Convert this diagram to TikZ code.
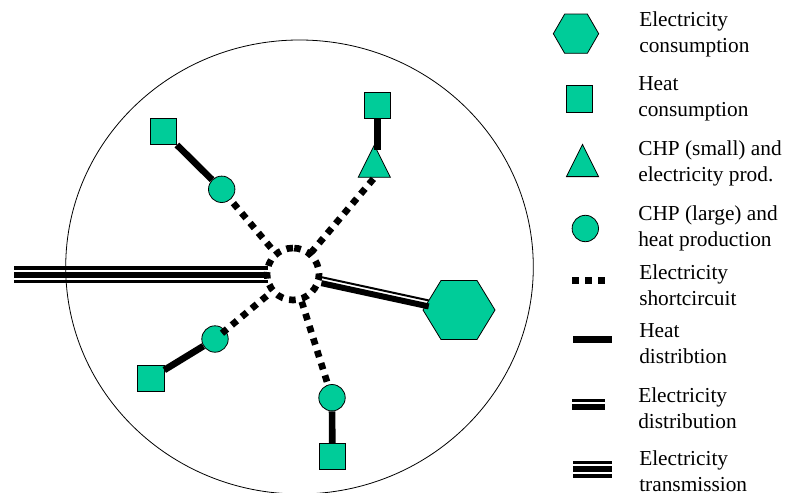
\documentclass[tikz,border=0pt]{standalone}
\usepackage{fontspec}
\setmainfont{Liberation Serif}
\usetikzlibrary{shapes.geometric}
\definecolor{fillgreen}{HTML}{00CC99}
\tikzset{
  shapeline/.style={draw=black,line width=0.6pt,fill=fillgreen,inner sep=0pt},
  sqnode/.style={shapeline,rectangle,minimum size=19.8pt},
  circnode/.style={shapeline,circle,minimum size=19.8pt},
  trinode/.style={shapeline,regular polygon,regular polygon sides=3,minimum size=27.9pt,yscale=1.155,transform shape},
  hexnode/.style={shapeline,regular polygon,regular polygon sides=6,minimum size=#1},
  hubnode/.style={circle,minimum size=39pt,inner sep=0pt,outer sep=2.25pt},
  dotline/.style={line width=5pt,dash pattern=on 5pt off 4.7pt},
  heatline/.style={line width=5pt},
  legtext/.style={anchor=west,align=left,inner sep=0pt,font=\fontsize{16}{19.5}\selectfont},
}
\newcommand{\bandline}[5]{\draw[line width=#3,transform canvas={yshift=#4},#5] (#1) -- (#2);}
\begin{document}
\begin{tikzpicture}[x=0.75pt,y=-0.75pt]
\useasboundingbox (0,0) rectangle (787,492);
\draw[line width=0.6pt,black] (299.5,267) ellipse [x radius=233.8,y radius=227];
% network nodes
\node[hubnode] (hub) at (293,274) {};
\node[sqnode] (s1) at (163.3,131.5) {};
\node[sqnode] (s2) at (377.5,105.5) {};
\node[sqnode] (s3) at (150.7,378.3) {};
\node[sqnode] (s4) at (332.3,456.5) {};
\node[circnode] (c1) at (221.7,189.3) {};
\node[circnode] (c2) at (215,339) {};
\node[circnode] (c3) at (332,397.7) {};
\node[trinode] (t1) at (374.3,166.6) {};
\node[hexnode=54pt,yscale=0.947,transform shape] (h1) at (459,310) {};
\coordinate (tx) at (14,274);
% connectors
\draw[heatline] (s1) -- (c1);
\draw[heatline,shorten >=-4.3pt] (s2.south) -- (s2.south |- t1.north);
\draw[heatline] (s3) -- (c2);
\draw[heatline] (s4) -- (c3);
\draw[dotline,dash phase=5.8pt] (hub) -- (c1);
\draw[dotline,dash phase=1.25pt] (hub) -- (t1.south);
\draw[dotline,dash phase=5.8pt,shorten >=-3.4pt] (hub) -- (c2);
\draw[dotline,dash phase=0.25pt] (hub) -- (c3);
\draw[dotline,shift={(hub.center)}] (90:19.5pt) arc [start angle=90,end angle=450,radius=19.5pt];
\bandline{hub}{h1}{1.5pt}{2.25pt}{shorten >=-1.5pt}
\bandline{hub}{h1}{4.5pt}{-2.25pt}{shorten >=-1.5pt}
\bandline{tx}{hub}{3pt}{4.7pt}{shorten >=-3pt}
\bandline{tx}{hub}{4.5pt}{-0.75pt}{shorten >=-3pt}
\bandline{tx}{hub}{2.25pt}{-5.5pt}{shorten >=-3pt}
% legend symbols
\node[hexnode=34pt] (lh) at (576,33.7) {};
\node[sqnode] (ls) at (579.3,99) {};
\node[trinode] (lt) at (582.5,165.9) {};
\node[circnode] (lc) at (585.3,228.5) {};
\coordinate (d1) at (572,280); \coordinate (d2) at (605,280);
\coordinate (e1) at (573,339.5); \coordinate (e2) at (612,339.5);
\coordinate (f1) at (572,400.6); \coordinate (f2) at (605,400.6);
\coordinate (g1) at (572,406.8); \coordinate (g2) at (605,406.8);
\coordinate (i1) at (573,462.5); \coordinate (i2) at (612,462.5);
\coordinate (j1) at (573,469); \coordinate (j2) at (612,469);
\coordinate (k1) at (573,476); \coordinate (k2) at (612,476);
\draw[line width=5.25pt,dash pattern=on 5.25pt off 4.5pt] (d1) -- (d2);
\draw[line width=5.25pt] (e1) -- (e2);
\draw[line width=2.5pt] (f1) -- (f2);
\draw[line width=4.9pt] (g1) -- (g2);
\draw[line width=2.25pt] (i1) -- (i2);
\draw[line width=4.5pt] (j1) -- (j2);
\draw[line width=3pt] (k1) -- (k2);
% legend text
\node[legtext] (a) at (639,34) {Electricity\\consumption};
\node[legtext] (b) at (638,98.5) {Heat\\consumption};
\node[legtext] (c) at (638,163) {CHP (small) and\\electricity prod.};
\node[legtext] (d) at (638,228) {CHP (large) and\\heat production};
\node[legtext] (e) at (639,285) {Electricity\\shortcircuit};
\node[legtext] (f) at (639,344) {Heat\\distribtion};
\node[legtext] (g) at (638,408.4) {Electricity\\distribution};
\node[legtext] (h) at (639,471.5) {Electricity\\transmission};
\end{tikzpicture}
\end{document}
